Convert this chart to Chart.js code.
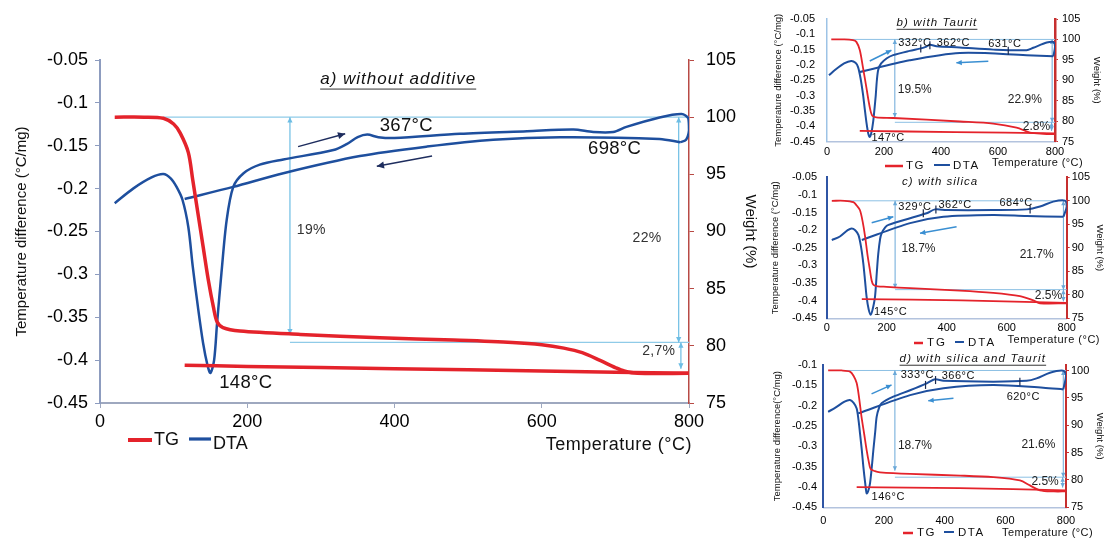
<!DOCTYPE html>
<html>
<head>
<meta charset="utf-8">
<script src="https://cdn.jsdelivr.net/npm/chart.js@4.4.1/dist/chart.umd.min.js"></script>
<style>
html, body { margin: 0; padding: 0; background: #fff; }
body { width: 1107px; height: 541px; position: relative; overflow: hidden; }
canvas { position: absolute; }
</style>
</head>
<body>
<canvas id="panelA" style="left:0;top:0;width:760px;height:470px" width="760" height="470"></canvas>
<canvas id="panelB" style="left:765px;top:0;width:342px;height:172px" width="342" height="172"></canvas>
<canvas id="panelC" style="left:765px;top:160px;width:342px;height:190px" width="342" height="190"></canvas>
<canvas id="panelD" style="left:765px;top:350px;width:342px;height:191px" width="342" height="191"></canvas>
<script>
// --------------------------------------------------------------------------
// DATA  (temperature °C, value) pairs
// --------------------------------------------------------------------------
const xTicks = [0, 200, 400, 600, 800];
const dtaTicks = [-0.45, -0.4, -0.35, -0.3, -0.25, -0.2, -0.15, -0.1, -0.05];
const dtaTicksD = [-0.45, -0.4, -0.35, -0.3, -0.25, -0.2, -0.15, -0.1];
const wtTicks = [75, 80, 85, 90, 95, 100, 105];
const wtTicksD = [75, 80, 85, 90, 95, 100];

// a) without additive
const aTgHeat = [[20,100],[60,100],[86,99.9],[100,99.4],[109,98.6],[120,96.9],[126,94.5],[133,91.6],[140,88.7],[147,85.8],[154,83.4],[159,82.1],[167,81.6],[190,81.3],[272,81],[380,80.7],[480,80.5],[560,80.3],[600,80.1],[630,79.8],[655,79.4],[680,78.7],[700,78.1],[712,77.8],[730,77.6],[800,77.6]];
const aTgCool = [[800,77.6],[600,77.8],[400,78],[200,78.2],[115,78.3]];
const aDtaHeat = [[20,-0.217],[45,-0.2],[70,-0.187],[86,-0.183],[96,-0.188],[104,-0.198],[112,-0.213],[120,-0.245],[126,-0.291],[133,-0.338],[140,-0.38],[146,-0.406],[150,-0.415],[155,-0.4],[159,-0.357],[165,-0.298],[172,-0.237],[181,-0.198],[195,-0.182],[217,-0.172],[249,-0.166],[317,-0.155],[335,-0.148],[350,-0.14],[363,-0.137],[378,-0.14],[400,-0.141],[489,-0.136],[580,-0.133],[643,-0.131],[670,-0.134],[697,-0.134],[715,-0.128],[760,-0.117],[790,-0.113],[799,-0.118],[800,-0.132],[796,-0.143],[788,-0.146]];
const aDtaCool = [[788,-0.146],[760,-0.142],[625,-0.14],[534,-0.143],[444,-0.151],[353,-0.162],[249,-0.182],[181,-0.198],[115,-0.212]];

// b) with Taurit
const bTgHeat = [[15,100],[60,100],[91,99.8],[103,99.4],[115,97.4],[126,93.2],[138,88.3],[150,83.4],[159,81.3],[173,80.9],[232,80.75],[466,79.9],[583,79.4],[665,78.4],[712,77.2],[760,76.9],[800,76.8]];
const bTgCool = [[800,77],[450,77.3],[115,77.6]];
const bDtaHeat = [[7,-0.234],[30,-0.215],[60,-0.195],[85,-0.187],[100,-0.193],[109,-0.207],[118,-0.245],[126,-0.294],[132,-0.34],[138,-0.385],[145,-0.425],[150,-0.435],[156,-0.42],[162,-0.385],[167,-0.34],[171,-0.3],[175,-0.25],[180,-0.215],[190,-0.195],[210,-0.178],[232,-0.168],[290,-0.154],[330,-0.146],[349,-0.14],[361,-0.134],[384,-0.139],[466,-0.143],[583,-0.15],[700,-0.152],[724,-0.144],[771,-0.127],[794,-0.125],[800,-0.141],[794,-0.172]];
const bDtaCool = [[794,-0.172],[700,-0.168],[466,-0.161],[290,-0.185],[115,-0.223]];

// c) with silica
const cTgHeat = [[17,100],[60,100],[89,99.7],[100,99],[111,98],[120,95.5],[128,92.4],[136,88.5],[144,85.3],[150,83],[156,82.1],[170,81.8],[200,81.7],[278,81.4],[444,80.9],[555,80.4],[644,79.7],[689,78.8],[711,78.2],[800,78.2]];
const cTgCool = [[800,78.3],[450,78.8],[117,79.1]];
const cDtaHeat = [[17,-0.228],[44,-0.218],[70,-0.2],[83,-0.195],[95,-0.2],[106,-0.214],[115,-0.25],[122,-0.294],[128,-0.345],[133,-0.389],[140,-0.425],[147,-0.44],[153,-0.425],[161,-0.389],[167,-0.32],[172,-0.266],[178,-0.225],[183,-0.209],[195,-0.192],[206,-0.185],[278,-0.166],[333,-0.152],[361,-0.141],[400,-0.143],[555,-0.143],[667,-0.141],[711,-0.133],[755,-0.119],[794,-0.116],[800,-0.133],[789,-0.162]];
const cDtaCool = [[789,-0.162],[667,-0.16],[555,-0.157],[389,-0.162],[278,-0.18],[117,-0.228]];

// d) with silica and Taurit
const dTgHeat = [[16,100],[60,100],[88,99.8],[100,99],[110,97.7],[118,95],[126,91.5],[135,88.3],[143,85.4],[150,83.3],[156,82],[170,81.6],[187,81.4],[286,81.1],[451,80.8],[560,80.5],[648,79.9],[681,79],[714,78.1],[760,77.9],[800,77.9]];
const dTgCool = [[800,78.1],[450,78.5],[110,78.7]];
const dDtaHeat = [[16,-0.215],[40,-0.205],[70,-0.19],[88,-0.186],[100,-0.193],[110,-0.207],[116,-0.235],[121,-0.268],[127,-0.31],[132,-0.35],[138,-0.39],[143,-0.416],[148,-0.41],[154,-0.391],[160,-0.35],[165,-0.309],[171,-0.265],[176,-0.227],[184,-0.205],[192,-0.194],[231,-0.178],[286,-0.162],[341,-0.145],[368,-0.135],[396,-0.139],[560,-0.141],[670,-0.139],[703,-0.133],[747,-0.119],[791,-0.114],[800,-0.125],[791,-0.16]];
const dDtaCool = [[791,-0.16],[725,-0.156],[560,-0.149],[396,-0.157],[286,-0.174],[115,-0.219]];

// annotations (data coordinates)
const aGuides = [
    { kind: 'guide', axis: 'y1', t1: 86, v1: 100, t2: 800, v2: 100 },
    { kind: 'guide', axis: 'y1', t1: 258, v1: 80.3, t2: 800, v2: 80.3 },
    { kind: 'span', axis: 'y1', t1: 258, v1: 100, t2: 258, v2: 81 },
    { kind: 'span', axis: 'y1', t1: 786, v1: 100, t2: 786, v2: 80.3 },
    { kind: 'span', axis: 'y1', t1: 789, v1: 80.3, t2: 789, v2: 78 },
    { kind: 'flow', axis: 'y', t1: 269, v1: -0.151, t2: 333, v2: -0.136 },
    { kind: 'flow', axis: 'y', t1: 451, v1: -0.162, t2: 376, v2: -0.174 },
];
const aLabels = [
    { kind: 'pct', axis: 'y1', text: '19%', t: 287, v: 90.1 },
    { kind: 'pct', axis: 'y1', text: '22%', t: 743, v: 89.4 },
    { kind: 'pct', axis: 'y1', text: '2,7%', t: 759, v: 79.5 },
    { kind: 'temp', axis: 'y', text: '367°C', t: 416, v: -0.127 },
    { kind: 'temp', axis: 'y', text: '698°C', t: 699, v: -0.154 },
    { kind: 'temp', axis: 'y', text: '148°C', t: 198, v: -0.427 },
];

const bGuides = [
    { kind: 'guide', axis: 'y1', t1: 60, v1: 100, t2: 800, v2: 100 },
    { kind: 'guide', axis: 'y1', t1: 238, v1: 79.7, t2: 800, v2: 79.7 },
    { kind: 'span', axis: 'y1', t1: 238, v1: 100, t2: 238, v2: 80.9 },
    { kind: 'span', axis: 'y1', t1: 790, v1: 100, t2: 790, v2: 79.7 },
    { kind: 'span', axis: 'y1', t1: 788, v1: 79.7, t2: 788, v2: 77.6 },
    { kind: 'flow', axis: 'y', t1: 150, v1: -0.187, t2: 226, v2: -0.152 },
    { kind: 'flow', axis: 'y', t1: 566, v1: -0.188, t2: 454, v2: -0.193 },
];
const bLabels = [
    { kind: 'pct', axis: 'y1', text: '19.5%', t: 308, v: 87.7 },
    { kind: 'pct', axis: 'y1', text: '22.9%', t: 694, v: 85.3 },
    { kind: 'pct', axis: 'y1', text: '2.8%', t: 735, v: 78.6 },
    { kind: 'temp', axis: 'y', text: '147°C', t: 214, v: -0.437 },
    { kind: 'temp', axis: 'y', text: '332°C', t: 308, v: -0.128 },
    { kind: 'temp', axis: 'y', text: '362°C', t: 443, v: -0.128 },
    { kind: 'temp', axis: 'y', text: '631°C', t: 624, v: -0.133 },
];
const bMarks = [[329, -0.146], [361, -0.136], [636, -0.154]];

const cGuides = [
    { kind: 'guide', axis: 'y1', t1: 60, v1: 100, t2: 800, v2: 100 },
    { kind: 'guide', axis: 'y1', t1: 228, v1: 81.1, t2: 800, v2: 81.1 },
    { kind: 'span', axis: 'y1', t1: 228, v1: 100, t2: 228, v2: 81.4 },
    { kind: 'span', axis: 'y1', t1: 789, v1: 100, t2: 789, v2: 81.1 },
    { kind: 'span', axis: 'y1', t1: 789, v1: 81.1, t2: 789, v2: 78.6 },
    { kind: 'flow', axis: 'y', t1: 150, v1: -0.179, t2: 222, v2: -0.162 },
    { kind: 'flow', axis: 'y', t1: 433, v1: -0.19, t2: 311, v2: -0.209 },
];
const cLabels = [
    { kind: 'pct', axis: 'y1', text: '18.7%', t: 306, v: 89.8 },
    { kind: 'pct', axis: 'y1', text: '21.7%', t: 700, v: 88.5 },
    { kind: 'pct', axis: 'y1', text: '2.5%', t: 739, v: 79.8 },
    { kind: 'temp', axis: 'y', text: '145°C', t: 213, v: -0.431 },
    { kind: 'temp', axis: 'y', text: '329°C', t: 294, v: -0.135 },
    { kind: 'temp', axis: 'y', text: '362°C', t: 428, v: -0.128 },
    { kind: 'temp', axis: 'y', text: '684°C', t: 631, v: -0.124 },
];
const cMarks = [[322, -0.152], [364, -0.141], [678, -0.141]];

const dGuides = [
    { kind: 'guide', axis: 'y1', t1: 60, v1: 100, t2: 800, v2: 100 },
    { kind: 'guide', axis: 'y1', t1: 236, v1: 80.5, t2: 800, v2: 80.5 },
    { kind: 'span', axis: 'y1', t1: 236, v1: 100, t2: 236, v2: 81.7 },
    { kind: 'span', axis: 'y1', t1: 791, v1: 100, t2: 791, v2: 80.5 },
    { kind: 'span', axis: 'y1', t1: 789, v1: 80.5, t2: 789, v2: 78.6 },
    { kind: 'flow', axis: 'y', t1: 159, v1: -0.171, t2: 225, v2: -0.149 },
    { kind: 'flow', axis: 'y', t1: 429, v1: -0.182, t2: 346, v2: -0.188 },
];
const dLabels = [
    { kind: 'pct', axis: 'y1', text: '18.7%', t: 302, v: 86.3 },
    { kind: 'pct', axis: 'y1', text: '21.6%', t: 709, v: 86.5 },
    { kind: 'pct', axis: 'y1', text: '2.5%', t: 731, v: 79.6 },
    { kind: 'temp', axis: 'y', text: '146°C', t: 214, v: -0.424 },
    { kind: 'temp', axis: 'y', text: '333°C', t: 310, v: -0.125 },
    { kind: 'temp', axis: 'y', text: '366°C', t: 445, v: -0.127 },
    { kind: 'temp', axis: 'y', text: '620°C', t: 659, v: -0.178 },
];
const dMarks = [[337, -0.149], [370, -0.137], [648, -0.141]];

// --------------------------------------------------------------------------
// STYLE
// --------------------------------------------------------------------------
const FONT = '"Liberation Sans", Arial, Helvetica, sans-serif';
const RED = '#e4232b';
const BLUE = '#1e4f9e';

const BIG_STYLE = {
    guide: { color: '#8fcbe8', width: 1.2, head: 0 },
    span: { color: '#6dbde4', width: 1.2, head: 6 },
    flow: { color: '#1e2d5e', width: 1.5, head: 8 },
    pct: { size: 14, color: '#333', sp: 0.3 },
    temp: { size: 18.5, color: '#111', sp: 0.3 },
    mark: { color: '#1e2d5e', len: 0 },
};
const SMALL_STYLE = {
    guide: { color: '#8cc0e4', width: 1, head: 0 },
    span: { color: '#6aa8d8', width: 1, head: 5 },
    flow: { color: '#3a8fd2', width: 1.5, head: 6 },
    pct: { size: 12, color: '#222', sp: 0 },
    temp: { size: 11, color: '#111', sp: 0.5 },
    mark: { color: '#1b2b50', len: 4 },
};

function arrowHead(ctx, x1, y1, x2, y2, size) {
    const a = Math.atan2(y2 - y1, x2 - x1);
    ctx.beginPath();
    ctx.moveTo(x2, y2);
    ctx.lineTo(x2 - size * Math.cos(a - 0.45), y2 - size * Math.sin(a - 0.45));
    ctx.lineTo(x2 - size * Math.cos(a + 0.45), y2 - size * Math.sin(a + 0.45));
    ctx.closePath();
    ctx.fill();
}

function putText(ctx, text, x, y, size, color, sp, style, align) {
    ctx.font = (style || '') + ' ' + size + 'px ' + FONT;
    ctx.fillStyle = color;
    ctx.letterSpacing = (sp || 0) + 'px';
    ctx.textAlign = align || 'center';
    ctx.textBaseline = 'middle';
    ctx.fillText(text, x, y);
    return ctx.measureText(text).width;
}

// draws guide lines, arrows, labels, title, x title and legend
const notesPlugin = {
    id: 'notes',
    beforeDatasetsDraw(chart, args, o) {
        const ctx = chart.ctx, sx = chart.scales.x;
        ctx.save();
        o.guides.forEach(g => {
            const st = o.style[g.kind], sy = chart.scales[g.axis];
            const x1 = sx.getPixelForValue(g.t1), x2 = sx.getPixelForValue(g.t2);
            const y1 = sy.getPixelForValue(g.v1), y2 = sy.getPixelForValue(g.v2);
            ctx.strokeStyle = st.color;
            ctx.fillStyle = st.color;
            ctx.lineWidth = st.width;
            ctx.beginPath();
            ctx.moveTo(x1, y1);
            ctx.lineTo(x2, y2);
            ctx.stroke();
            if (g.kind === 'span') { arrowHead(ctx, x2, y2, x1, y1, st.head); arrowHead(ctx, x1, y1, x2, y2, st.head); }
            if (g.kind === 'flow') arrowHead(ctx, x1, y1, x2, y2, st.head);
        });
        ctx.restore();
    },
    afterDatasetsDraw(chart, args, o) {
        const ctx = chart.ctx, sx = chart.scales.x;
        ctx.save();
        const mk = o.style.mark;
        if (mk.len) {
            ctx.strokeStyle = mk.color;
            ctx.lineWidth = 1.2;
            (o.marks || []).forEach(([t, v]) => {
                const x = sx.getPixelForValue(t), y = chart.scales.y.getPixelForValue(v);
                ctx.beginPath();
                ctx.moveTo(x, y - mk.len);
                ctx.lineTo(x, y + mk.len);
                ctx.stroke();
            });
        }
        o.labels.forEach(l => {
            const st = o.style[l.kind];
            putText(ctx, l.text, sx.getPixelForValue(l.t), chart.scales[l.axis].getPixelForValue(l.v), st.size, st.color, st.sp);
        });
        ctx.restore();
    },
    afterDraw(chart, args, o) {
        const ctx = chart.ctx, sx = chart.scales.x;
        ctx.save();
        // panel title
        const T = o.title;
        const tx = sx.getPixelForValue(T.t), ty = chart.scales.y.getPixelForValue(T.v);
        const w = putText(ctx, T.text, tx, ty, T.size, '#111', T.sp, 'italic');
        if (T.underline) {
            ctx.strokeStyle = '#333';
            ctx.lineWidth = 1;
            ctx.beginPath();
            ctx.moveTo(tx - w / 2, ty + T.size * 0.55);
            ctx.lineTo(tx + w / 2, ty + T.size * 0.55);
            ctx.stroke();
        }
        // x axis title
        const X = o.xTitle;
        putText(ctx, 'Temperature (°C)', X.right, X.y, X.size, '#111', X.sp, '', 'right');
        // legend
        const L = o.legend;
        let x = L.x;
        L.items.forEach(it => {
            ctx.strokeStyle = it.color;
            ctx.lineWidth = it.lw;
            ctx.beginPath();
            ctx.moveTo(x, L.y + (it.lineDy || 0));
            ctx.lineTo(x + it.len, L.y + (it.lineDy || 0));
            ctx.stroke();
            x += it.len + L.textGap;
            x += putText(ctx, it.label, x, L.y + (it.textDy || 0), L.size, '#111', L.sp, '', 'left');
            x += L.gap;
        });
        ctx.restore();
    }
};

// --------------------------------------------------------------------------
// PANEL BUILDER
// --------------------------------------------------------------------------
function buildPanel(id, L, sets, notes) {
    const f = size => ({ family: FONT, size });
    const fixed = values => scale => { scale.ticks = values.map(v => ({ value: v })); };
    return new Chart(document.getElementById(id), {
        type: 'line',
        data: {
            datasets: sets.map(s => ({
                data: s.pts.map(p => ({ x: p[0], y: p[1] })),
                yAxisID: s.axis,
                borderColor: s.color,
                borderWidth: s.width,
                pointRadius: 0,
                tension: 0.3,
                fill: false,
            }))
        },
        options: {
            responsive: false,
            animation: false,
            events: [],
            layout: { padding: { top: L.top, left: 0, right: 0, bottom: 0 } },
            plugins: { legend: { display: false }, tooltip: { enabled: false }, notes },
            scales: {
                x: {
                    type: 'linear', min: 0, max: 800,
                    afterBuildTicks: fixed(xTicks),
                    afterFit: s => { s.height = L.xH; },
                    grid: { drawOnChartArea: false, drawTicks: L.xTickLen > 0, tickLength: L.xTickLen, color: L.xColor },
                    border: { color: L.xColor, width: L.xBW },
                    ticks: { font: f(L.tick), color: '#000', padding: L.xTickPad, maxRotation: 0, autoSkip: false },
                    title: { display: false },
                },
                y: {
                    position: 'left', min: L.yMin, max: L.yMax,
                    afterBuildTicks: fixed(L.yTicks),
                    afterFit: s => { s.width = L.yW; },
                    grid: { drawOnChartArea: false, drawTicks: L.yTickLen > 0, tickLength: L.yTickLen, color: L.yColor },
                    border: { color: L.yColor, width: L.yBW },
                    ticks: { font: f(L.tick), color: '#000', padding: L.yTickPad, autoSkip: false,
                             callback: v => String(Math.round(v * 100) / 100) },
                    title: { display: true, text: L.yTitleText, font: f(L.yTitle), color: '#111', padding: { top: L.yTitlePad, bottom: 0 } },
                },
                y1: {
                    position: 'right', min: 75, max: L.wMax,
                    afterBuildTicks: fixed(L.wTicks),
                    afterFit: s => { s.width = L.y1W; },
                    grid: { drawOnChartArea: false, drawTicks: true, tickLength: L.y1TickLen, color: L.y1Color },
                    border: { color: L.y1Color, width: L.y1BW },
                    ticks: { font: f(L.tick), color: '#000', padding: L.y1TickPad, autoSkip: false },
                    title: { display: true, text: 'Weight (%)', font: f(L.y1Title), color: '#111', padding: { top: L.y1TitlePad, bottom: 0 } },
                },
            }
        },
        plugins: [notesPlugin]
    });
}

function curves(tgHeat, tgCool, dtaHeat, dtaCool, tgW, dtaW) {
    return [
        { pts: tgHeat, axis: 'y1', color: RED, width: tgW },
        { pts: tgCool, axis: 'y1', color: RED, width: tgW },
        { pts: dtaHeat, axis: 'y', color: BLUE, width: dtaW },
        { pts: dtaCool, axis: 'y', color: BLUE, width: dtaW },
    ];
}

function legendItems(tgLen, dtaLen, lw, dtaDy) {
    return [
        { label: 'TG', color: RED, lw, len: tgLen },
        { label: 'DTA', color: BLUE, lw: lw * 0.8, len: dtaLen, lineDy: -1, textDy: dtaDy },
    ];
}

// --------------------------------------------------------------------------
// PANELS
// --------------------------------------------------------------------------
buildPanel('panelA', {
    top: 60, yW: 100, y1W: 71, xH: 67, tick: 18,
    yMin: -0.45, yMax: -0.05, yTicks: dtaTicks, wMax: 105, wTicks: wtTicks,
    yTitleText: 'Temperature difference (°C/mg)', yTitle: 15, yTitlePad: 13, y1Title: 15, y1TitlePad: 1,
    yTickLen: 5, yTickPad: 7, y1TickLen: 5, y1TickPad: 12, xTickLen: 5, xTickPad: 3,
    xColor: '#9ea8bf', xBW: 2, yColor: '#8d9cbf', yBW: 2, y1Color: '#b84a45', y1BW: 1.5,
}, curves(aTgHeat, aTgCool, aDtaHeat, aDtaCool, 3.5, 2.5), {
    style: BIG_STYLE, guides: aGuides, labels: aLabels, marks: [],
    title: { text: 'a) without additive', t: 405, v: -0.073, size: 17, sp: 1, underline: true },
    xTitle: { right: 692, y: 445, size: 18, sp: 0.5 },
    legend: { x: 128, y: 440, size: 18, sp: 0, textGap: 2, gap: 10, items: legendItems(24, 22, 4, 4) },
});

buildPanel('panelB', {
    top: 19, yW: 62, y1W: 52, xH: 30.5, tick: 11,
    yMin: -0.45, yMax: -0.05, yTicks: dtaTicks, wMax: 105, wTicks: wtTicks,
    yTitleText: 'Temperature difference (°C/mg)', yTitle: 9.5, yTitlePad: 7.3, y1Title: 9.5, y1TitlePad: 4.3,
    yTickLen: 0, yTickPad: 12, y1TickLen: 3, y1TickPad: 4, xTickLen: 0, xTickPad: 4,
    xColor: '#b3c3de', xBW: 1.5, yColor: '#9dc3e6', yBW: 1.5, y1Color: '#c62f2f', y1BW: 2.5,
}, curves(bTgHeat, bTgCool, bDtaHeat, bDtaCool, 1.8, 2), {
    style: SMALL_STYLE, guides: bGuides, labels: bLabels, marks: bMarks,
    title: { text: 'b) with Taurit', t: 386, v: -0.063, size: 11.5, sp: 1.1, underline: true },
    xTitle: { right: 318, y: 163, size: 11, sp: 0.4 },
    legend: { x: 120, y: 166, size: 11.5, sp: 1.5, textGap: 3, gap: 9, items: legendItems(18, 16, 2.5, 0) },
});

buildPanel('panelC', {
    top: 17.3, yW: 61.7, y1W: 40.3, xH: 31.7, tick: 11,
    yMin: -0.45, yMax: -0.05, yTicks: dtaTicks, wMax: 105, wTicks: wtTicks,
    yTitleText: 'Temperature difference (°C/mg)', yTitle: 9.5, yTitlePad: 4.3, y1Title: 9.5, y1TitlePad: 1.3,
    yTickLen: 0, yTickPad: 9.7, y1TickLen: 3, y1TickPad: 2, xTickLen: 0, xTickPad: 3,
    xColor: '#b3c3de', xBW: 1.5, yColor: '#2f55a4', yBW: 2, y1Color: '#c62f2f', y1BW: 2,
}, curves(cTgHeat, cTgCool, cDtaHeat, cDtaCool, 1.8, 2), {
    style: SMALL_STYLE, guides: cGuides, labels: cLabels, marks: cMarks,
    title: { text: 'c) with silica', t: 378, v: -0.062, size: 11.5, sp: 1, underline: false },
    xTitle: { right: 335, y: 180, size: 11, sp: 0.5 },
    legend: { x: 149, y: 183, size: 11.5, sp: 2, textGap: 4, gap: 8, items: legendItems(9, 9, 2.5, 0) },
});

buildPanel('panelD', {
    top: 15, yW: 58.3, y1W: 41, xH: 33.7, tick: 11,
    yMin: -0.45, yMax: -0.1, yTicks: dtaTicksD, wMax: 101, wTicks: wtTicksD,
    yTitleText: 'Temperature difference(°C/mg)', yTitle: 9.5, yTitlePad: 6.3, y1Title: 9.5, y1TitlePad: 1.3,
    yTickLen: 0, yTickPad: 6.3, y1TickLen: 3, y1TickPad: 2, xTickLen: 0, xTickPad: 7,
    xColor: '#b3c3de', xBW: 1.5, yColor: '#2f55a4', yBW: 2, y1Color: '#c62f2f', y1BW: 2,
}, curves(dTgHeat, dTgCool, dDtaHeat, dDtaCool, 1.8, 2), {
    style: SMALL_STYLE, guides: dGuides, labels: dLabels, marks: dMarks,
    title: { text: 'd) with silica and Taurit', t: 493, v: -0.085, size: 11.5, sp: 1.2, underline: true },
    xTitle: { right: 328, y: 183, size: 11, sp: 0.4 },
    legend: { x: 138, y: 183, size: 11.5, sp: 1.5, textGap: 4, gap: 8, items: legendItems(10, 10, 2.5, 0) },
});
</script>
</body>
</html>
